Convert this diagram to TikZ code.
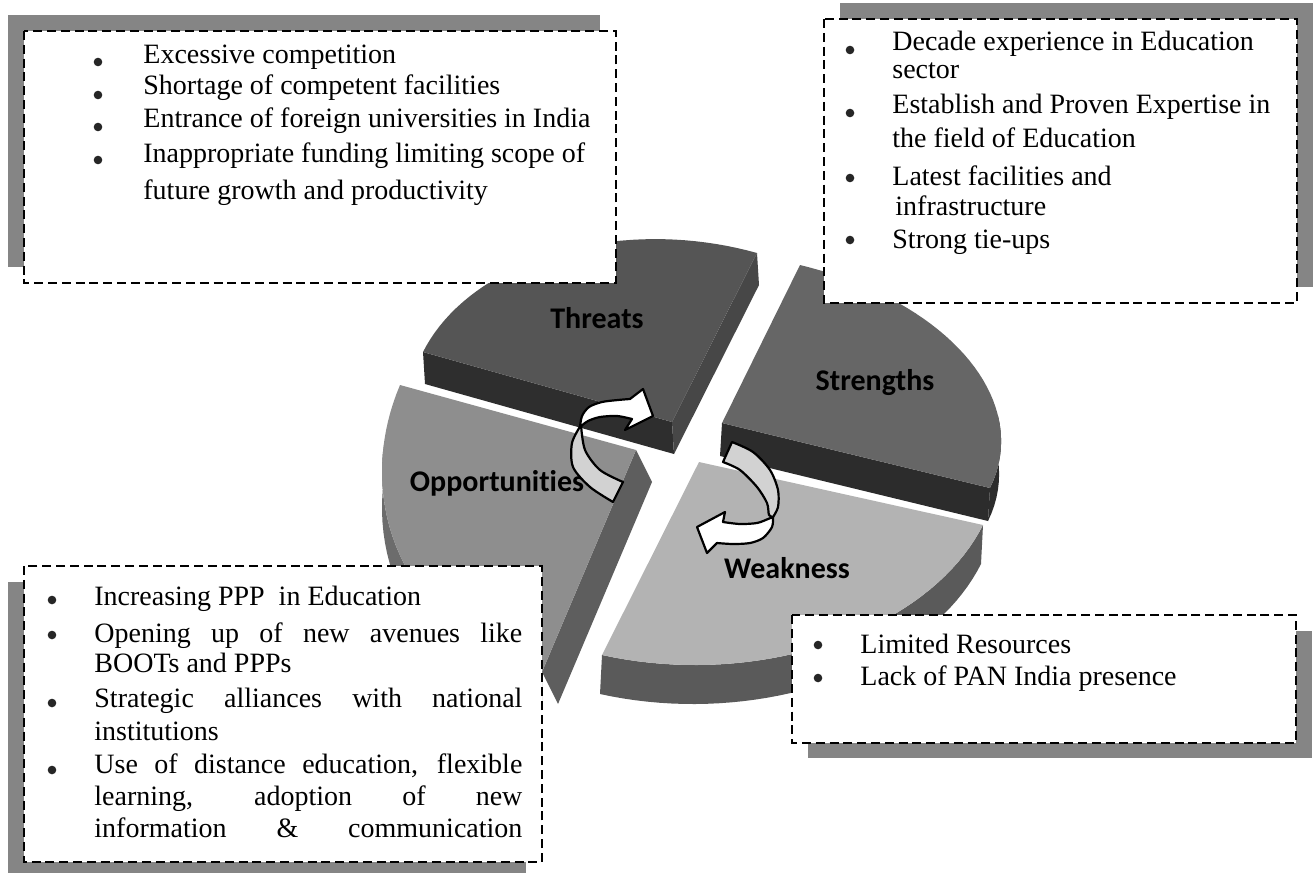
\documentclass[tikz,border=0pt]{standalone}
\usepackage{fontspec}
\setmainfont{Liberation Serif}
\newfontfamily\labelfont[Ligatures=NoCommon]{Carlito}
\definecolor{threatstop}{HTML}{555555}
\definecolor{threatsfront}{HTML}{2E2E2E}
\definecolor{threatsside}{HTML}{474747}
\definecolor{strtop}{HTML}{666666}
\definecolor{strfront}{HTML}{2C2C2C}
\definecolor{weaktop}{HTML}{B3B3B3}
\definecolor{weakwall}{HTML}{5A5A5A}
\definecolor{opptop}{HTML}{8E8E8E}
\definecolor{oppside}{HTML}{5E5E5E}
\definecolor{oppwall}{HTML}{6C6C6C}
\definecolor{shadowgray}{HTML}{858585}
\definecolor{arrgray}{HTML}{D2D2D2}
\begin{document}
\begin{tikzpicture}[x=0.5pt,y=-0.5pt,
  txt/.style={anchor=base west,inner sep=0pt,font=\fontsize{14}{16}\selectfont},
  bul/.style={circle,fill=black!85,inner sep=0pt,minimum size=4.3pt},
  tbox/.style={draw=black,fill=white,line width=1.4pt,dash pattern=on 4.5pt off 2.4pt},
  boxshadow/.style={fill=shadowgray},
  lbl/.style={inner sep=0pt,font=\labelfont\bfseries\fontsize{15}{18}\selectfont},
  arr/.style={draw=black,line width=1.1pt,line join=round}]
  \useasboundingbox (0,0) rectangle (1316,873);
  % threats
  \fill[threatsfront] (423,352) -- (672,422) -- (674,454) -- (425,384) -- cycle;
  \fill[threatsside] (672,422) -- (757,253) -- (759,285) -- (674,454) -- cycle;
  \fill[threatstop] (672,422) -- plot[domain=0:90,samples=40] ({672-249*cos(\x)+85*sin(\x)},{422-70*cos(\x)-169*sin(\x)}) -- cycle;
  % strengths
  \fill[strfront] plot[domain=0:25,samples=10] ({722+268*cos(\x)+78*sin(\x)},{423+65*cos(\x)-158*sin(\x)})
    -- plot[domain=25:0,samples=10] ({720+268*cos(\x)+78*sin(\x)},{456+65*cos(\x)-158*sin(\x)}) -- cycle;
  \fill[strfront] (722,423) -- (990,488) -- (988,521) -- (720,456) -- cycle;
  \fill[strtop] (722,423) -- plot[domain=0:90,samples=40] ({722+268*cos(\x)+78*sin(\x)},{423+65*cos(\x)-158*sin(\x)}) -- cycle;
  % opportunities
  \fill[oppside] (636,450) -- (542,672) -- (558,704) -- (652,482) -- cycle;
  \fill[oppwall] plot[domain=15:90,samples=30] ({636-236*cos(\x)-94*sin(\x)},{450-65*cos(\x)+222*sin(\x)})
    -- plot[domain=90:15,samples=30] ({636-236*cos(\x)-94*sin(\x)},{486-65*cos(\x)+222*sin(\x)}) -- cycle;
  \fill[opptop] (636,450) -- plot[domain=0:90,samples=40] ({636-236*cos(\x)-94*sin(\x)},{450-65*cos(\x)+222*sin(\x)}) -- cycle;
  % weakness
  \fill[weakwall] plot[domain=0:90,samples=40] ({699+284*cos(\x)-97*sin(\x)},{462+63*cos(\x)+193*sin(\x)})
    -- plot[domain=90:0,samples=40] ({697+284*cos(\x)-97*sin(\x)},{501+63*cos(\x)+193*sin(\x)}) -- cycle;
  \fill[weaktop] (699,462) -- plot[domain=0:90,samples=40] ({699+284*cos(\x)-97*sin(\x)},{462+63*cos(\x)+193*sin(\x)}) -- cycle;
  \node[lbl] (threats) at (597,318) {Threats};
  \node[lbl] (strengths) at (875,383) {Strengths};
  \node[lbl] (opportunities) at (497,483) {Opportunities};
  \node[lbl] (weakness) at (787,568) {Weakness};
  % arrows
  \filldraw[arr,fill=arrgray] plot[smooth] coordinates {(581,425) (572,443) (573,467) (590,487) (613,502)}
    -- (623,482) -- plot[smooth] coordinates {(623,482) (600,470) (585,450) (581,425)} -- cycle;
  \filldraw[arr,fill=white] plot[smooth] coordinates {(580,427) (582,416) (589,407) (602,402) (618,400) (630,399)}
    -- (643,389) -- (653,416) -- (625,430) -- (632,419)
    -- plot[smooth] coordinates {(632,419) (617,416) (600,417) (588,421) (580,427)} -- cycle;
  \filldraw[arr,fill=arrgray] plot[smooth] coordinates {(732,442) (753,452) (770,470) (778,490) (778,507) (773,517)}
    -- plot[smooth] coordinates {(773,517) (769,515) (767,503) (757,487) (740,470) (723,462)} -- cycle;
  \filldraw[arr,fill=white] plot[smooth] coordinates {(773,517) (772,527) (763,538) (750,543) (733,544) (717,543)}
    -- (707,553) -- (697,527) -- (725,512) -- (723,522)
    -- plot[smooth] coordinates {(723,522) (740,524) (757,523) (768,519) (773,517)} -- cycle;
  % boxes
  \fill[boxshadow] (8,15) rectangle (600,267);
  \draw[tbox] (24,31) rectangle (616,283);
  \fill[boxshadow] (840,3) rectangle (1313,287);
  \draw[tbox] (824,19) rectangle (1297,303);
  \fill[boxshadow] (8,582) rectangle (526,873);
  \draw[tbox] (24,566) rectangle (542,862);
  \fill[boxshadow] (808,631) rectangle (1312,758);
  \draw[tbox] (792,615) rectangle (1296,743);
  % threats list
  \node[bul] (tb1) at (98,62) {};
  \node[bul] (tb2) at (98,95) {};
  \node[bul] (tb3) at (98,127) {};
  \node[bul] (tb4) at (98,160) {};
  \node[txt] (tl1) at (143,63) {Excessive competition};
  \node[txt] (tl2) at (143,94) {Shortage of competent facilities};
  \node[txt] (tl3) at (143,127) {Entrance of foreign universities in India};
  \node[txt] (tl4) at (143,162) {Inappropriate funding limiting scope of};
  \node[txt] (tl5) at (143,199) {future growth and productivity};
  % strengths list
  \node[bul] (sb1) at (850,50) {};
  \node[bul] (sb2) at (850,113) {};
  \node[bul] (sb3) at (850,178) {};
  \node[bul] (sb4) at (850,240) {};
  \node[txt] (sl1) at (892,50) {Decade experience in Education};
  \node[txt] (sl2) at (892,78) {sector};
  \node[txt] (sl3) at (892,113) {Establish and Proven Expertise in};
  \node[txt] (sl4) at (892,147) {the field of Education};
  \node[txt] (sl5) at (892,185) {Latest facilities and};
  \node[txt] (sl6) at (895,215) {infrastructure};
  \node[txt] (sl7) at (892,248) {Strong tie-ups};
  % opportunities list
  \node[bul] (ob1) at (52,600) {};
  \node[bul] (ob2) at (52,635) {};
  \node[bul] (ob3) at (52,703) {};
  \node[bul] (ob4) at (52,770) {};
  \node[txt] (ol1) at (94,605) {Increasing PPP~ in Education};
  \node[txt] (ol2) at (94,642) {\makebox[214pt][s]{Opening up of new avenues like}};
  \node[txt] (ol3) at (94,672) {BOOTs and PPPs};
  \node[txt] (ol4) at (94,707) {\makebox[214pt][s]{Strategic alliances with national}};
  \node[txt] (ol5) at (94,740) {institutions};
  \node[txt] (ol6) at (94,773) {\makebox[214pt][s]{Use of distance education, flexible}};
  \node[txt] (ol7) at (94,805) {\makebox[214pt][s]{learning, adoption of new}};
  \node[txt] (ol8) at (94,837) {\makebox[214pt][s]{information \& communication}};
  % weakness list
  \node[bul] (wb1) at (818,645) {};
  \node[bul] (wb2) at (818,678) {};
  \node[txt] (wl1) at (860,653) {Limited Resources};
  \node[txt] (wl2) at (860,685) {Lack of PAN India presence};
\end{tikzpicture}
\end{document}
